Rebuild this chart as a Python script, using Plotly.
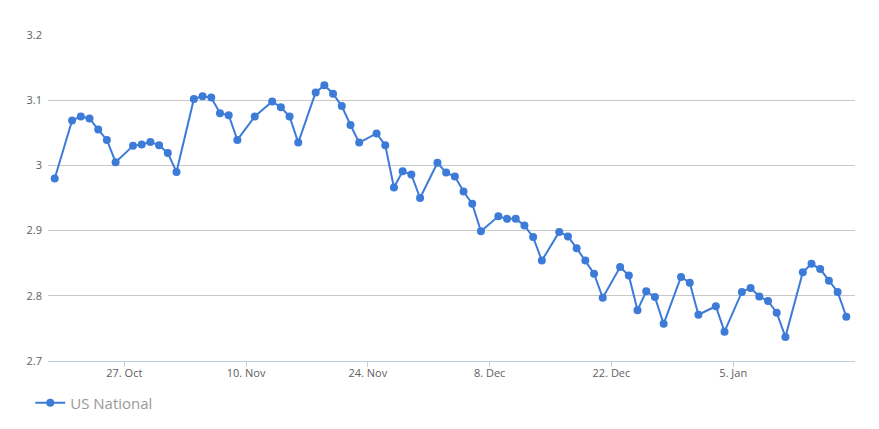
import plotly.graph_objects as go

series_name = "US National"

dates = [
    "2014-10-19",
    "2014-10-21", "2014-10-22", "2014-10-23", "2014-10-24", "2014-10-25", "2014-10-26",
    "2014-10-28", "2014-10-29", "2014-10-30", "2014-10-31", "2014-11-01", "2014-11-02",
    "2014-11-04", "2014-11-05", "2014-11-06", "2014-11-07", "2014-11-08", "2014-11-09",
    "2014-11-11",
    "2014-11-13", "2014-11-14", "2014-11-15", "2014-11-16",
    "2014-11-18", "2014-11-19", "2014-11-20", "2014-11-21", "2014-11-22", "2014-11-23",
    "2014-11-25", "2014-11-26", "2014-11-27", "2014-11-28", "2014-11-29", "2014-11-30",
    "2014-12-02", "2014-12-03", "2014-12-04", "2014-12-05", "2014-12-06", "2014-12-07",
    "2014-12-09", "2014-12-10", "2014-12-11", "2014-12-12", "2014-12-13", "2014-12-14",
    "2014-12-16", "2014-12-17", "2014-12-18", "2014-12-19", "2014-12-20", "2014-12-21",
    "2014-12-23", "2014-12-24", "2014-12-25", "2014-12-26", "2014-12-27", "2014-12-28",
    "2014-12-30", "2014-12-31", "2015-01-01",
    "2015-01-03", "2015-01-04",
    "2015-01-06", "2015-01-07", "2015-01-08", "2015-01-09", "2015-01-10", "2015-01-11",
    "2015-01-13", "2015-01-14", "2015-01-15", "2015-01-16", "2015-01-17", "2015-01-18",
]

values = [
    2.980,
    3.069, 3.075, 3.072, 3.055, 3.039, 3.005,
    3.030, 3.032, 3.036, 3.031, 3.019, 2.990,
    3.102, 3.106, 3.104, 3.080, 3.077, 3.039,
    3.075,
    3.098, 3.089, 3.075, 3.035,
    3.112, 3.123, 3.110, 3.091, 3.062, 3.035,
    3.049, 3.031, 2.966, 2.991, 2.986, 2.950,
    3.004, 2.989, 2.983, 2.960, 2.941, 2.899,
    2.922, 2.918, 2.918, 2.908, 2.890, 2.854,
    2.898, 2.891, 2.873, 2.854, 2.834, 2.797,
    2.844, 2.831, 2.778, 2.807, 2.798, 2.757,
    2.829, 2.820, 2.771,
    2.784, 2.745,
    2.806, 2.812, 2.799, 2.792, 2.774, 2.737,
    2.836, 2.849, 2.841, 2.823, 2.806, 2.768,
]

x_tick_vals = ["2014-10-27", "2014-11-10", "2014-11-24", "2014-12-08", "2014-12-22", "2015-01-05"]
x_tick_text = ["27. Oct", "10. Nov", "24. Nov", "8. Dec", "22. Dec", "5. Jan"]

y_tick_vals = [2.7, 2.8, 2.9, 3.0, 3.1, 3.2]
y_tick_text = ["2.7", "2.8", "2.9", "3", "3.1", "3.2"]

line_color = "#3d7bd9"
font_family = "Open Sans, sans-serif"

fig = go.Figure()
fig.add_trace(go.Scatter(
    x=dates, y=values, name=series_name,
    mode="lines+markers",
    line=dict(color=line_color, width=2),
    marker=dict(color=line_color, size=8),
    showlegend=True,
))

# page body has an 8px default margin, so the figure is sized/margined to compensate
fig.update_layout(
    width=871, height=421,
    margin=dict(l=40, r=24, t=27, b=68, autoexpand=False),
    paper_bgcolor="white", plot_bgcolor="white",
    font=dict(family=font_family, size=11, color="#606060"),
    showlegend=True,
    legend=dict(
        orientation="h", x=-0.022, xanchor="left", y=-0.129, yanchor="middle",
        font=dict(size=15, color="#999999", family=font_family),
        itemwidth=30, bgcolor="rgba(0,0,0,0)",
    ),
    xaxis=dict(
        type="date",
        range=["2014-10-18 05:30", "2015-01-19 00:00"],
        tickvals=x_tick_vals, ticktext=x_tick_text,
        showgrid=False, zeroline=False,
        showline=True, linecolor="#C0D0E0", linewidth=1,
        ticks="outside", ticklen=5, tickcolor="#C0D0E0", tickwidth=1,
        ticklabelstandoff=-3,
        tickfont=dict(size=11, color="#606060"),
    ),
    yaxis=dict(
        range=[2.7, 3.2],
        tickvals=y_tick_vals, ticktext=y_tick_text,
        showgrid=True, gridcolor="#C8C8C8", gridwidth=1,
        zeroline=False, showline=False,
        ticks="", ticklabelstandoff=5,
        tickfont=dict(size=11, color="#606060"),
    ),
)

fig.write_html("out.html")
